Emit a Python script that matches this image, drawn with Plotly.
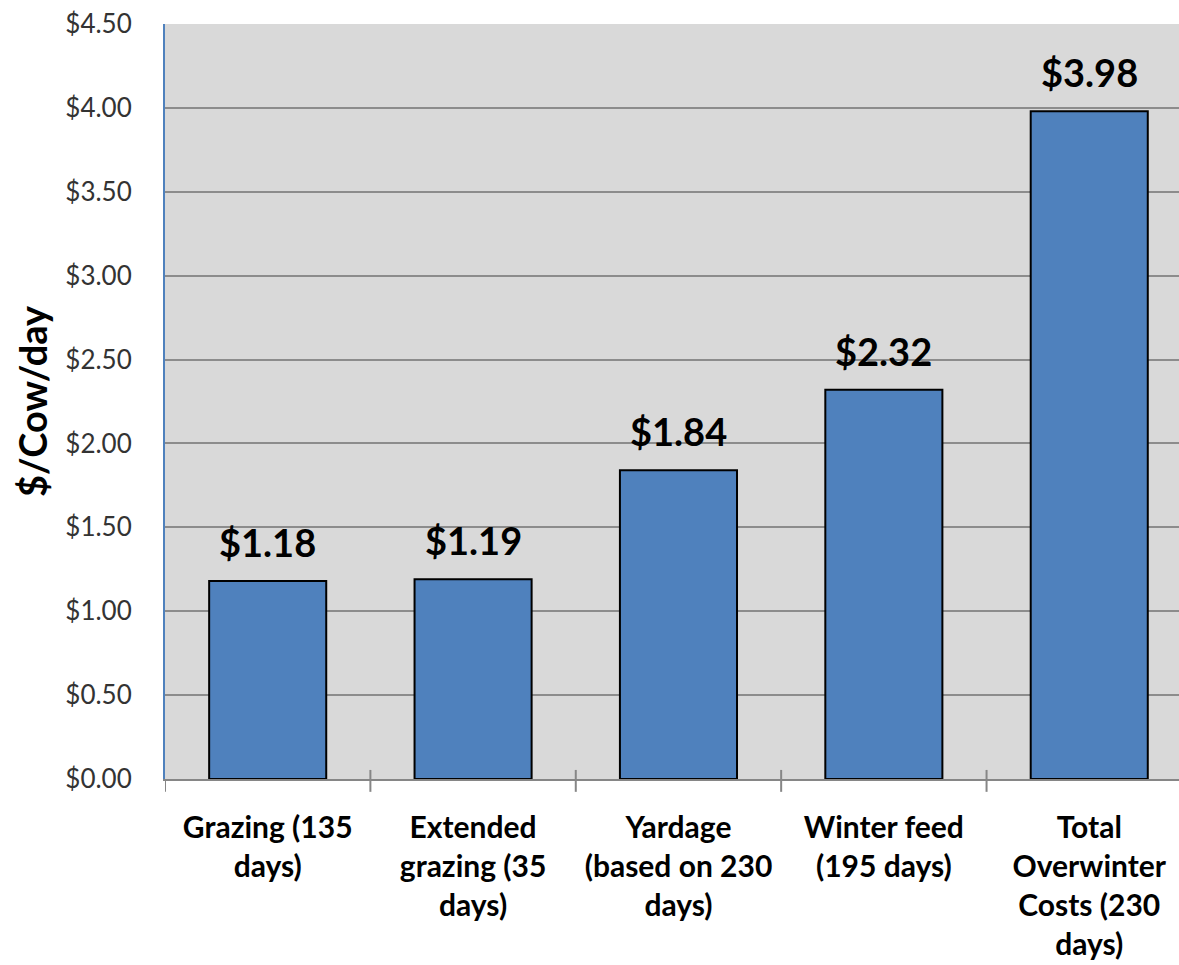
import plotly.graph_objects as go

categories = [
    "Grazing (135<br>days)",
    "Extended<br>grazing (35<br>days)",
    "Yardage<br>(based on 230<br>days)",
    "Winter feed<br>(195 days)",
    "Total<br>Overwinter<br>Costs (230<br>days)",
]
values = [1.18, 1.19, 1.84, 2.32, 3.98]
labels = ["$1.18", "$1.19", "$1.84", "$2.32", "$3.98"]
ytick_vals = [0, 0.5, 1.0, 1.5, 2.0, 2.5, 3.0, 3.5, 4.0, 4.5]
ytick_text = ["$0.00", "$0.50", "$1.00", "$1.50", "$2.00", "$2.50", "$3.00", "$3.50", "$4.00", "$4.50"]

FONT = "Lato"

fig = go.Figure()
fig.add_trace(go.Bar(
    x=list(range(len(categories))),
    y=values,
    width=0.57,
    marker=dict(color="#4F81BD", line=dict(color="#000000", width=2)),
    cliponaxis=False,
))

for i, (v, t) in enumerate(zip(values, labels)):
    fig.add_annotation(x=i, y=v, text="<b>" + t + "</b>", showarrow=False,
                       xanchor="center", yanchor="bottom", yshift=14,
                       font=dict(family=FONT, size=38, color="#000000"))

fig.update_layout(
    width=1179, height=965,
    margin=dict(l=165, r=0, t=24, b=186),
    paper_bgcolor="white",
    plot_bgcolor="#D9D9D9",
    showlegend=False,
    font=dict(family=FONT, color="#000000"),
)
fig.update_xaxes(
    tickmode="array",
    tickvals=list(range(len(categories))),
    ticktext=["<b>" + c.replace("<br>", "</b><br><b>") + "</b>" for c in categories],
    tickfont=dict(family=FONT, size=30, color="#000000"),
    range=[-0.5, 4.437],
    showline=True, linecolor="#868686", linewidth=2,
    showgrid=False,
    ticks="",
    ticklabelstandoff=21,
    zeroline=False,
)
fig.update_yaxes(
    range=[0, 4.5],
    tickmode="array",
    tickvals=ytick_vals,
    ticktext=ytick_text,
    tickfont=dict(family=FONT, size=26, color="#333333"),
    showgrid=True, gridcolor="#8C8C8C", gridwidth=2,
    showline=True, linecolor="#4F81BD", linewidth=2,
    zeroline=False,
    ticks="outside", ticklen=6, tickcolor="rgba(0,0,0,0)",
    ticklabelstandoff=20,
    title=dict(text="<b>$/Cow/day</b>", font=dict(family=FONT, size=38, color="#000000"), standoff=6),
)

# category boundary tick marks
for b in [0.5, 1.5, 2.5, 3.5]:
    fig.add_shape(type="line", xref="x", yref="paper", x0=b, x1=b, y0=-0.017, y1=0.012,
                  line=dict(color="#868686", width=2))
fig.add_shape(type="line", xref="x", yref="paper", x0=-0.5, x1=-0.5, y0=-0.017, y1=0,
              line=dict(color="#868686", width=2))

fig.write_html("out.html")
